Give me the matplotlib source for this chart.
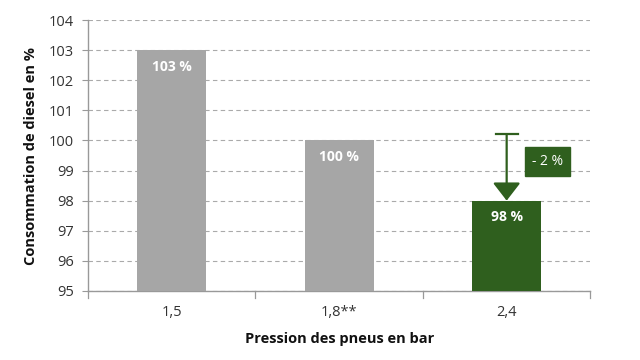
import matplotlib
matplotlib.use("Agg")
import matplotlib.pyplot as plt

categories = ["1,5", "1,8**", "2,4"]
values = [103, 100, 98]
labels = ["103 %", "100 %", "98 %"]
colors = ["#a6a6a6", "#a6a6a6", "#2f5f1e"]
yticks = [95, 96, 97, 98, 99, 100, 101, 102, 103, 104]
diff_label = "- 2 %"
arrow_start = 100.2

plt.rcParams['font.family'] = ['Open Sans', 'DejaVu Sans']

fig = plt.figure(figsize=(6.4, 3.6), dpi=100)
ax = fig.add_axes([0.1375, 0.192, 0.785, 0.752])

x = list(range(len(categories)))
ax.bar(x, [v - 95 for v in values], bottom=95, width=0.41, color=colors, zorder=3)
ax.set_xlim(-0.5, 2.5)
ax.set_ylim(95, 104)
ax.set_yticks(yticks)
ax.set_yticklabels([str(t) for t in yticks], fontsize=10.5, color="#333333")
ax.set_xticks(x)
ax.set_xticklabels(categories, fontsize=10.5, color="#333333")
ax.tick_params(axis='x', length=0, pad=10)
ax.tick_params(axis='y', length=4, color="#999999", direction='out', pad=6)
for xb in [-0.5, 0.5, 1.5, 2.5]:
    ax.plot([xb, xb], [95, 94.75], color="#999999", lw=0.9, clip_on=False, zorder=4)

ax.grid(axis='y', linestyle=(0, (4, 3)), color="#aaaaaa", lw=0.8, zorder=0)
for s in ["top", "right"]:
    ax.spines[s].set_visible(False)
for s in ["left", "bottom"]:
    ax.spines[s].set_color("#999999")
    ax.spines[s].set_linewidth(1.0)

for xi, v, lab in zip(x, values, labels):
    ax.text(xi, v - 0.55, lab, ha='center', va='center', color='white',
            fontsize=10, fontweight='bold', zorder=5)

ax.set_ylabel("Consommation de diesel en %", fontsize=10.5, fontweight='bold', color="#111111", labelpad=8)
ax.set_xlabel("Pression des pneus en bar", fontsize=10.5, fontweight='bold', color="#111111", labelpad=9)

# arrow
ax.annotate("", xy=(2, values[2]), xytext=(2, arrow_start),
            arrowprops=dict(arrowstyle="-|>,head_length=1.1,head_width=0.85", color="#2f5f1e", lw=1.6,
                            shrinkA=0, shrinkB=0), zorder=6)
ax.plot([1.935, 2.065], [arrow_start, arrow_start], color="#2f5f1e", lw=1.6, zorder=6)
ax.text(2.245, 99.3, diff_label, ha='center', va='center', color='white', fontsize=10,
        bbox=dict(boxstyle='square,pad=0.5', fc="#2f5f1e", ec="#2f5f1e"), zorder=6)

fig.savefig("out.png", dpi=100)
